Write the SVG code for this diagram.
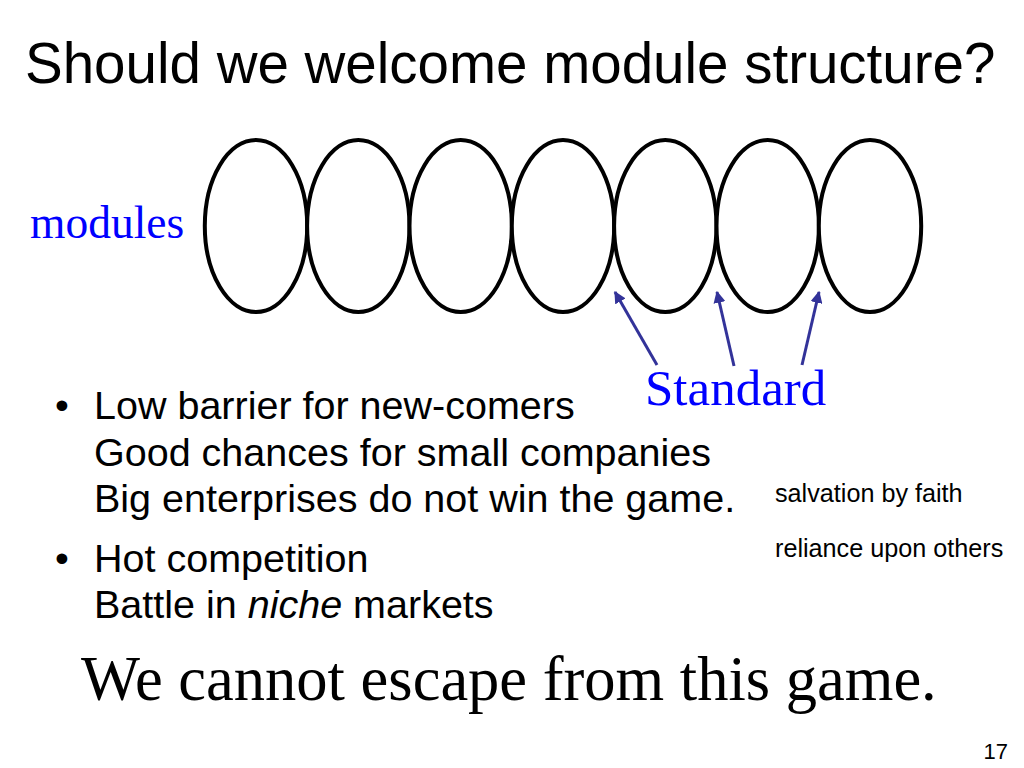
<svg xmlns="http://www.w3.org/2000/svg" width="1024" height="768" viewBox="0 0 1024 768">
<style>
.sans{font-family:"Liberation Sans",Arial,sans-serif;fill:#000}
.serif{font-family:"Liberation Serif","Times New Roman",serif}
.mod{fill:#fff;stroke:#000;stroke-width:4}
.arrow{stroke:#333399;stroke-width:3;fill:none;marker-end:url(#ah)}
.blue{fill:#0000FF}
</style>
<defs>
<marker id="ah" viewBox="0 0 10 10" refX="9" refY="5" markerWidth="4" markerHeight="4" orient="auto" markerUnits="strokeWidth">
<path d="M0,0 L10,5 L0,10 z" fill="#333399"/>
</marker>
</defs>
<rect width="1024" height="768" fill="#fff"/>
<text id="title" class="sans" x="25" y="83" font-size="56.5">Should we welcome module structure?</text>
<text id="modules" class="serif blue" x="30" y="238" font-size="45.5">modules</text>
<g id="module1"><ellipse class="mod" cx="256" cy="226" rx="51.2" ry="86"/></g>
<g id="module2"><ellipse class="mod" cx="358.3" cy="226" rx="51.2" ry="86"/></g>
<g id="module3"><ellipse class="mod" cx="460.7" cy="226" rx="51.2" ry="86"/></g>
<g id="module4"><ellipse class="mod" cx="563" cy="226" rx="51.2" ry="86"/></g>
<g id="module5"><ellipse class="mod" cx="665.3" cy="226" rx="51.2" ry="86"/></g>
<g id="module6"><ellipse class="mod" cx="767.7" cy="226" rx="51.2" ry="86"/></g>
<g id="module7"><ellipse class="mod" cx="870" cy="226" rx="51.2" ry="86"/></g>
<g id="connectors">
<line class="arrow" x1="657" y1="365" x2="615" y2="292"/>
<line class="arrow" x1="734" y1="366" x2="717" y2="292"/>
<line class="arrow" x1="802" y1="365" x2="819" y2="292"/>
</g>
<g id="standard"><text class="serif blue" x="645" y="405" font-size="51">Standard</text></g>
<g id="bullets" class="sans" font-size="39.5">
<text class="sans" x="55" y="419">•</text>
<text class="sans" x="94" y="419">Low barrier for new-comers</text>
<text class="sans" x="94" y="466">Good chances for small companies</text>
<text class="sans" x="94" y="512">Big enterprises do not win the game.</text>
<text class="sans" x="55" y="572">•</text>
<text class="sans" x="94" y="572">Hot competition</text>
<text class="sans" x="94" y="618">Battle in <tspan font-style="italic">niche</tspan> markets</text>
</g>
<text id="note1" class="sans" x="775" y="502" font-size="25.2">salvation by faith</text>
<text id="note2" class="sans" x="775" y="557" font-size="25.2">reliance upon others</text>
<text id="conclusion" class="serif" x="81" y="700" font-size="62.5" fill="#000">We cannot escape from this game.</text>
<text id="page" class="sans" x="1008" y="759" font-size="22" text-anchor="end">17</text>
</svg>
